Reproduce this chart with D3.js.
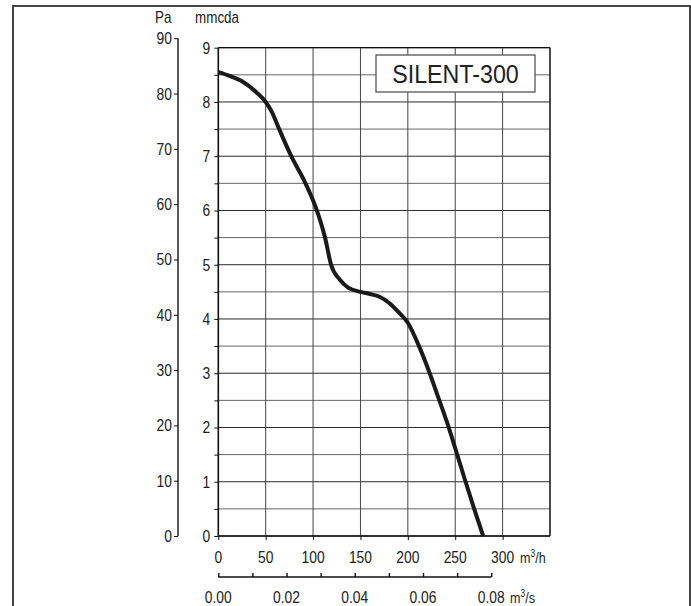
<!DOCTYPE html>
<html><head><meta charset="utf-8">
<script src="https://cdn.jsdelivr.net/npm/d3@7"></script>
<style>
body{margin:0;background:#fff;}
svg{display:block;}
text{font-family:"Liberation Sans",Arial,sans-serif;fill:#222;}
</style></head>
<body>
<script>
const title = "SILENT-300";
const flowM3h = [0, 12, 25, 40, 50, 57, 63, 77, 92, 104, 112.6, 119, 128.5, 137, 150, 160, 170, 180, 190, 200, 212, 222, 232, 242, 251, 260, 270, 279.5];
const pressMmcda = [8.55, 8.48, 8.38, 8.18, 8.0, 7.8, 7.55, 7.0, 6.5, 6.0, 5.5, 5.0, 4.72, 4.58, 4.5, 4.46, 4.41, 4.3, 4.13, 3.93, 3.49, 3.05, 2.56, 2.06, 1.56, 1.05, 0.5, 0];
const xTicksM3h = [0, 50, 100, 150, 200, 250, 300];
const yTicksPa = [0, 10, 20, 30, 40, 50, 60, 70, 80, 90];
const xTicksM3s = [0, 0.01, 0.02, 0.03, 0.04, 0.05, 0.06, 0.07, 0.08];
const xLabelsM3s = ["0.00", "0.02", "0.04", "0.06", "0.08"];

const W = 691, H = 606, SX = 0.84, FS = 16.5;
const svg = d3.select("body").append("svg").attr("width", W).attr("height", H);

function label(parent, px, py, str, anchor, size) {
  const g = parent.append("g").attr("transform", `translate(${px},${py}) scale(${SX},1)`);
  g.append("text").attr("text-anchor", anchor || "start").attr("font-size", size || FS).text(str);
  return g;
}

svg.append("rect").attr("x", 13).attr("y", 6).attr("width", 677).attr("height", 640)
  .attr("fill", "none").attr("stroke", "#444").attr("stroke-width", 2);

const x = d3.scaleLinear().domain([0, 350]).range([218.3, 550]);
const y = d3.scaleLinear().domain([0, 9]).range([536, 47.7]);
const yPa = d3.scaleLinear().domain([0, 9 * 9.81]).range([536, 47.7]);
const xS = d3.scaleLinear().domain([0, 350 / 3600]).range([218.3, 550]);

const grid = svg.append("g");
grid.selectAll("line.h").data(d3.range(0, 9.01, 0.5)).join("line")
  .attr("x1", x(0)).attr("x2", x(350)).attr("y1", d => y(d)).attr("y2", d => y(d))
  .attr("stroke", d => Number.isInteger(d) ? "#2a2a2a" : "#666").attr("stroke-width", 1);
grid.selectAll("line.v").data(d3.range(50, 351, 50)).join("line")
  .attr("x1", d => x(d)).attr("x2", d => x(d)).attr("y1", y(0)).attr("y2", y(9))
  .attr("stroke", "#444").attr("stroke-width", 1);
svg.append("line").attr("x1", x(0)).attr("x2", x(0)).attr("y1", y(0)).attr("y2", y(9)).attr("stroke", "#111").attr("stroke-width", 1.6);
svg.append("line").attr("x1", x(0)).attr("x2", x(350)).attr("y1", y(0)).attr("y2", y(0)).attr("stroke", "#111").attr("stroke-width", 1.6);
svg.append("line").attr("x1", x(0)).attr("x2", x(350)).attr("y1", y(9)).attr("y2", y(9)).attr("stroke", "#111").attr("stroke-width", 1.2);
svg.append("line").attr("x1", x(350)).attr("x2", x(350)).attr("y1", y(0)).attr("y2", y(9)).attr("stroke", "#111").attr("stroke-width", 1.2);

const axM = d3.axisLeft(y).tickValues(d3.range(0, 9.01, 0.5)).tickSize(4).tickFormat("");
const gM = svg.append("g").attr("transform", `translate(${x(0)},0)`).call(axM);
gM.select(".domain").remove();
gM.selectAll("line").attr("stroke", "#111");
const gML = svg.append("g");
y.ticks(9).forEach(v => label(gML, x(0) - 8, y(v) + 6, String(v), "end"));

const axP = d3.axisLeft(yPa).tickValues(yTicksPa).tickSize(4).tickFormat("").tickSizeOuter(0);
const gP = svg.append("g").attr("transform", "translate(178,0)").call(axP);
gP.select(".domain").attr("d", `M0,${yPa(0)}V${yPa(90)}`).attr("stroke", "#111").attr("stroke-width", 1.4);
gP.selectAll("line").attr("stroke", "#111");
const gPL = svg.append("g");
yTicksPa.forEach(v => label(gPL, 172, yPa(v) + 6, String(v), "end"));

label(svg, 155, 23, "Pa", "start", 16);
label(svg, 195, 23, "mmcda", "start", 16);

const axH = d3.axisBottom(x).tickValues(xTicksM3h).tickSize(4).tickFormat("");
const gH = svg.append("g").attr("transform", `translate(0,${y(0)})`).call(axH);
gH.select(".domain").remove();
gH.selectAll("line").attr("stroke", "#111");
const gHL = svg.append("g");
xTicksM3h.forEach(v => label(gHL, x(v), 563, String(v), "middle"));
const uhG = svg.append("g").attr("transform", `translate(520,563) scale(${SX},1)`);
const uh = uhG.append("text").attr("font-size", 15);
uh.append("tspan").text("m");
uh.append("tspan").attr("font-size", 10).attr("dy", -6).text("3");
uh.append("tspan").attr("dy", 6).text("/h");

const axS = d3.axisTop(xS).tickValues(xTicksM3s).tickSize(4).tickFormat("");
const gS = svg.append("g").attr("transform", "translate(0,577)").call(axS);
gS.select(".domain").attr("d", `M${xS(0)},0H${xS(0.08)}`).attr("stroke", "#111").attr("stroke-width", 1.4);
gS.selectAll("line").attr("stroke", "#111").attr("stroke-width", 1.4);
const gSL = svg.append("g");
xLabelsM3s.forEach(d => label(gSL, xS(+d), 603, d, "middle"));
const usG = svg.append("g").attr("transform", `translate(510,603) scale(${SX},1)`);
const us = usG.append("text").attr("font-size", 15);
us.append("tspan").text("m");
us.append("tspan").attr("font-size", 10).attr("dy", -6).text("3");
us.append("tspan").attr("dy", 6).text("/s");

svg.append("rect").attr("x", 376).attr("y", 55).attr("width", 159).attr("height", 37)
  .attr("fill", "#fff").attr("stroke", "#555").attr("stroke-width", 1.3);
const tg = svg.append("g").attr("transform", `translate(455.5,83) scale(0.93,1)`);
tg.append("text").attr("text-anchor", "middle").attr("font-size", 25).text(title);

const pts = flowM3h.map((f, i) => [f, pressMmcda[i]]);
svg.append("path").datum(pts)
  .attr("d", d3.line().x(d => x(d[0])).y(d => y(d[1])).curve(d3.curveMonotoneX))
  .attr("fill", "none").attr("stroke", "#1a1a1a").attr("stroke-width", 4);
</script>
</body></html>
